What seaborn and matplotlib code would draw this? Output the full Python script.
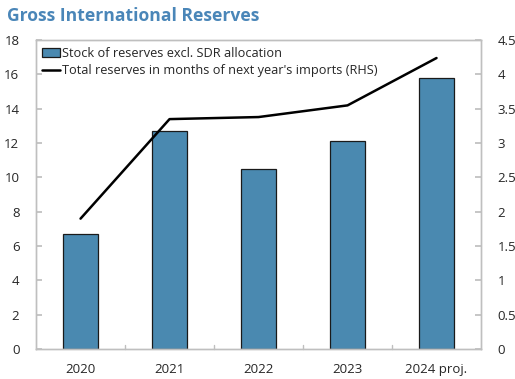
import matplotlib
matplotlib.use("Agg")
import matplotlib.pyplot as plt
import seaborn as sns
import pandas as pd
from matplotlib.lines import Line2D
from matplotlib.patches import Patch

years = ["2020", "2021", "2022", "2023", "2024 proj."]
reserves_bn = [6.7, 12.7, 10.5, 12.1, 15.8]
import_months = [1.9, 3.35, 3.38, 3.55, 4.24]

sns.set_theme(style="white")
plt.rcParams["font.family"] = ["Open Sans", "DejaVu Sans"]

df = pd.DataFrame({"year": years, "reserves": reserves_bn, "months": import_months})

fig = plt.figure(figsize=(5.15, 3.79), dpi=100)
ax = fig.add_axes([0.070, 0.079, 0.864, 0.815])

bar_color = "#4A89B0"
sns.barplot(data=df, x="year", y="reserves", color=bar_color, width=0.4,
            edgecolor="#1a1a1a", linewidth=0.9, saturation=1, ax=ax)
ax.set_xlim(-0.5, 4.5)
ax.set_ylim(0, 18)
ax.set_yticks(range(0, 19, 2))
ax.set_xlabel("")
ax.set_ylabel("")

ax2 = ax.twinx()
sns.lineplot(x=list(range(len(years))), y=import_months, color="black",
             linewidth=1.8, ax=ax2)
ax2.set_ylim(0, 4.5)
ax2.set_yticks([0, 0.5, 1, 1.5, 2, 2.5, 3, 3.5, 4, 4.5])
ax2.set_yticklabels(["0", "0.5", "1", "1.5", "2", "2.5", "3", "3.5", "4", "4.5"])

spine_col = "#bfbfbf"
for a in (ax, ax2):
    for s in a.spines.values():
        s.set_color(spine_col)
        s.set_linewidth(1.0)
        s.set_visible(True)

ax.tick_params(axis="y", direction="in", length=4, color=spine_col, labelsize=9.5,
               pad=12, left=True)
ax2.tick_params(axis="y", direction="in", length=4, color=spine_col, labelsize=9.5,
                pad=12, right=True)
ax.set_xticks([0, 1, 2, 3, 4])
ax.tick_params(axis="x", length=0, labelsize=9.5, pad=10)
# category separators on the x axis
for xb in [0.5, 1.5, 2.5, 3.5]:
    ax.plot([xb, xb], [0, 0.22], color=spine_col, linewidth=1.0, clip_on=False)

handles = [
    Patch(facecolor=bar_color, edgecolor="#1a1a1a", linewidth=0.9,
          label="Stock of reserves excl. SDR allocation"),
    Line2D([0], [0], color="black", linewidth=1.8,
           label="Total reserves in months of next year's imports (RHS)"),
]
ax2.legend(handles=handles, loc="upper left", frameon=False, fontsize=9.2,
           handlelength=1.4, handletextpad=0.1, borderaxespad=0.4,
           labelspacing=0.35, borderpad=0.1)

fig.text(0.013, 0.958, "Gross International Reserves", fontsize=12.6,
         fontweight="bold", color="#4A86B8", va="center", ha="left")

fig.savefig("out.png", dpi=100)
